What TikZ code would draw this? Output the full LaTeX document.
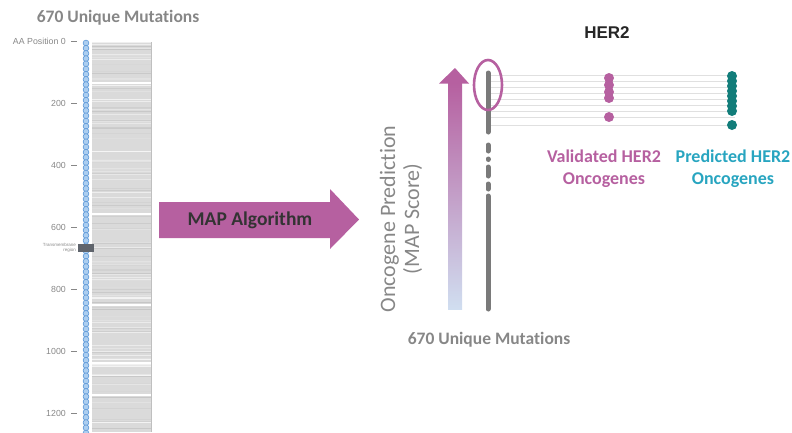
\documentclass[tikz,border=0pt]{standalone}
\usepackage{fontspec}
\setmainfont[Ligatures=NoCommon]{Carlito}
\newfontfamily\arialf{Liberation Sans}
\definecolor{mag}{RGB}{182,96,160}
\definecolor{tealdot}{RGB}{18,125,122}
\definecolor{predc}{RGB}{40,165,192}
\definecolor{greytxt}{RGB}{135,135,135}
\definecolor{dotgrey}{RGB}{122,122,122}
\definecolor{bandgrey}{RGB}{218,218,218}
\definecolor{cfill}{RGB}{172,206,240}
\definecolor{cdraw}{RGB}{92,152,216}
\definecolor{lb}{RGB}{208,222,240}
\definecolor{tmgrey}{RGB}{95,100,108}
\tikzset{
  titletxt/.style={text=greytxt, font=\bfseries\fontsize{17.5}{21}\selectfont, inner sep=0pt},
  ticktxt/.style={text=greytxt, font=\arialf\fontsize{8.8}{10}\selectfont, anchor=east, inner sep=0pt},
  ticklne/.style={greytxt, line width=0.6},
  mutcol/.style={dotgrey, line width=5, line cap=round},
  hline/.style={black!12, line width=0.9},
  validdot/.style={fill=mag},
  preddot/.style={fill=tealdot},
}
\begin{document}
\begin{tikzpicture}[x=1pt,y=-1pt]
\useasboundingbox (0,0) rectangle (792,432);

% ---------- left panel ----------
\node[titletxt] (lefttitle) at (118,18) {670 Unique Mutations};

% grey band with stripes
\fill[bandgrey] (92,42) rectangle (151,432);
\pgfmathsetseed{11}
\foreach \i in {1,...,140}{
  \pgfmathsetmacro\yy{42+390*rnd}
  \pgfmathsetmacro\gg{int(198+48*rnd)}
  \draw[color={rgb,255:red,\gg;green,\gg;blue,\gg}, line width=0.9] (92,\yy) -- (151,\yy);
}
\foreach \yy in {83,214,305,363,395}{
  \draw[white, line width=1.2] (92,\yy) -- (151,\yy);
}
\draw[black!25, line width=0.8] (151,42) -- (151,432);

% blue circles
\foreach \k in {0,...,75}{
  \draw[cdraw, fill=cfill, line width=0.6] (86,{43+5.2*\k}) circle (2.9);
}

% transmembrane region
\fill[tmgrey] (78,244) rectangle (94,252);
\node[text=greytxt, font=\arialf\fontsize{4.5}{5}\selectfont, align=right, anchor=east, inner sep=0pt] (tmlabel) at (76,248) {Transmembrane\\region};

% ticks
\node[ticktxt] (t0) at (66,41) {AA Position 0};
\node[ticktxt] (t200) at (66,103) {200};
\node[ticktxt] (t400) at (66,165) {400};
\node[ticktxt] (t600) at (66,227) {600};
\node[ticktxt] (t800) at (66,289) {800};
\node[ticktxt] (t1000) at (66,351) {1000};
\node[ticktxt] (t1200) at (66,413) {1200};
\foreach \yy in {41,103,165,227,289,351,413}{
  \draw[ticklne] (71,\yy) -- (77,\yy);
}

% ---------- MAP arrow ----------
\fill[mag] (159,202) -- (330,202) -- (330,189) -- (359,219.5) -- (330,249) -- (330,238) -- (159,238) -- cycle;
\node[text=black!80, font=\bfseries\fontsize{19.5}{22}\selectfont, inner sep=0pt] (maptxt) at (250,220) {MAP Algorithm};

% ---------- right panel ----------
\node[font=\arialf\bfseries\fontsize{17}{20}\selectfont, text=black!85, inner sep=0pt] (her2) at (607,33) {HER2};

% gradient arrow
\shade[top color=mag, middle color=black!48, bottom color=lb] (448,83) rectangle (462,309);
\fill[mag] (439,83.5) -- (469,83.5) -- (455,68) -- cycle;

\node[rotate=90, align=center, text=greytxt, font=\fontsize{22}{24}\selectfont, inner sep=0pt] (yaxis) at (401,219) {Oncogene Prediction\\(MAP Score)};

% horizontal lines
\foreach \yy in {75,81,87,93,99,105,111,117,125}{
  \draw[hline] (490,\yy) -- (735,\yy);
}

% mutation column
\draw[mutcol] (488,73) -- (488,132);
\draw[mutcol] (488,145) -- (488,151);
\draw[mutcol] (488,159) -- (488,159.5);
\draw[mutcol] (488,167) -- (488,176);
\draw[mutcol] (488,184) -- (488,189);
\draw[mutcol] (488,196) -- (488,309);

% ellipse highlight
\draw[mag, line width=2.6] (488,85) ellipse [x radius=14, y radius=25];

% validated dots
\foreach \yy in {78,85,92,98,117}{
  \fill[validdot] (609,\yy) circle (5);
}
% predicted dots
\foreach \yy in {76,81,86,91,96,101,106,111,125}{
  \fill[preddot] (732,\yy) circle (5);
}

\node[text=mag, font=\bfseries\fontsize{18}{22}\selectfont, align=center, inner sep=0pt] (valtxt) at (604,169) {Validated HER2\\Oncogenes};
\node[text=predc, font=\bfseries\fontsize{18}{22}\selectfont, align=center, inner sep=0pt] (predtxt) at (733,169) {Predicted HER2\\Oncogenes};

\node[titletxt] (bottitle) at (489,340) {670 Unique Mutations};
\end{tikzpicture}
\end{document}
